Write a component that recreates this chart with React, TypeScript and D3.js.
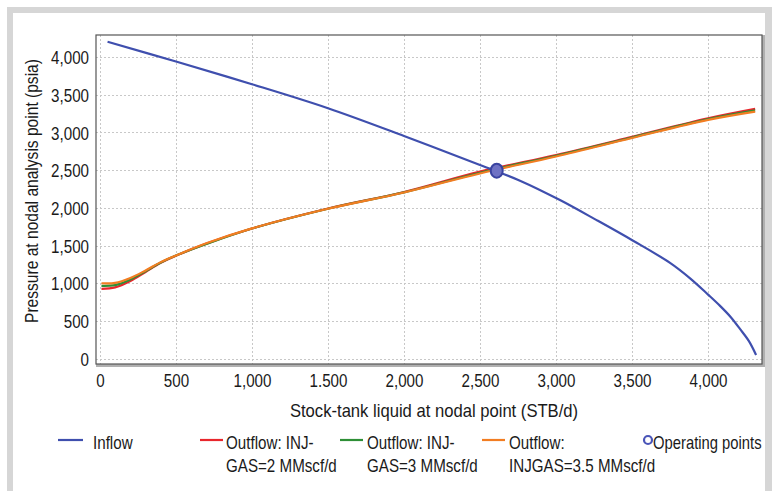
import * as d3 from 'd3'
import { useEffect, useRef } from 'react'

// stock-tank liquid rate (STB/d) vs pressure (psia)
const inflowQ = [50, 500, 1000, 1500, 2000, 2500, 2763, 3026, 3267, 3507, 3750, 3882, 4000, 4079, 4150, 4210, 4270, 4316]
const inflowP = [4200, 3938, 3638, 3320, 2952, 2567, 2360, 2103, 1837, 1564, 1270, 1065, 850, 700, 550, 395, 230, 50]

const outflowQ = [10, 100, 200, 300, 400, 500, 700, 1000, 1500, 2000, 2500, 3000, 3500, 4000, 4310]
const outflow2P = [925, 945, 1030, 1150, 1270, 1365, 1525, 1725, 1990, 2210, 2480, 2700, 2940, 3185, 3310]
const outflow3P = [965, 975, 1050, 1160, 1275, 1367, 1520, 1725, 1988, 2205, 2465, 2690, 2932, 3175, 3292]
const outflow35P = [1000, 1005, 1070, 1170, 1280, 1368, 1530, 1727, 1987, 2203, 2455, 2680, 2925, 3165, 3275]

const operatingQ = [2610]
const operatingP = [2492]

const xTicks = [0, 500, 1000, 1500, 2000, 2500, 3000, 3500, 4000]
const xTickLabels = ['0', '500', '1,000', '1.500', '2,000', '2,500', '3,000', '3,500', '4,000']
const yTicks = [0, 500, 1000, 1500, 2000, 2500, 3000, 3500, 4000]
const yTickLabels = ['0', '500', '1,000', '1,500', '2,000', '2,500', '3,000', '3,500', '4,000']

const FONT = "'Liberation Sans', Arial, sans-serif"
const SX = 0.82 // squeeze text horizontally, the original face is a condensed one
const INK = '#1a1a1a'

export default function App() {
  const ref = useRef<SVGSVGElement>(null)

  useEffect(() => {
    const svg = d3.select(ref.current)
    svg.selectAll('*').remove()
    const plot = { left: 96, top: 35, right: 762, bottom: 364 }

    // frame
    svg.append('rect').attr('x', 7).attr('y', 7).attr('width', 780).attr('height', 500).attr('fill', '#d6d6d6')
    svg.append('rect').attr('x', 13).attr('y', 13).attr('width', 752).attr('height', 500).attr('fill', '#fff')

    const x = d3.scaleLinear().domain([-26, 4355]).range([plot.left, plot.right])
    const y = d3.scaleLinear().domain([-70, 4290]).range([plot.bottom, plot.top])

    // grid
    const grid = svg.append('g').attr('stroke', '#c8c8c8').attr('stroke-dasharray', '2,2').attr('stroke-width', 1)
    grid.selectAll('.gx').data(xTicks).join('line')
      .attr('x1', (d) => Math.round(x(d)) + 0.5).attr('x2', (d) => Math.round(x(d)) + 0.5)
      .attr('y1', plot.top).attr('y2', plot.bottom)
    grid.selectAll('.gy').data(yTicks).join('line')
      .attr('y1', (d) => Math.round(y(d)) + 0.5).attr('y2', (d) => Math.round(y(d)) + 0.5)
      .attr('x1', plot.left).attr('x2', plot.right)

    // plot border
    svg.append('line').attr('x1', plot.left).attr('x2', plot.right + 1).attr('y1', plot.bottom + 1.5).attr('y2', plot.bottom + 1.5)
      .attr('stroke', '#b0b0b0').attr('stroke-width', 3)
    svg.append('line').attr('x1', plot.right + 1.5).attr('x2', plot.right + 1.5).attr('y1', plot.top).attr('y2', plot.bottom + 3)
      .attr('stroke', '#b0b0b0').attr('stroke-width', 3)
    svg.append('rect').attr('x', plot.left).attr('y', plot.top).attr('width', plot.right - plot.left).attr('height', plot.bottom - plot.top)
      .attr('fill', 'none').attr('stroke', '#555').attr('stroke-width', 1.2)

    // axes
    const xAxis = d3.axisBottom(x).tickValues(xTicks).tickSize(0).tickPadding(10)
      .tickFormat((_d, i) => xTickLabels[i])
    svg.append('g').attr('transform', `translate(0,${plot.bottom})`).call(xAxis)
      .call((g) => g.select('.domain').remove())
      .selectAll('text').attr('font-size', 18.5).attr('font-family', FONT).attr('fill', INK)
      .attr('transform', `scale(${SX},1)`)

    const yAxis = d3.axisLeft(y).tickValues(yTicks).tickSize(0).tickPadding(7)
      .tickFormat((_d, i) => yTickLabels[i])
    svg.append('g').attr('transform', `translate(${plot.left},0)`).call(yAxis)
      .call((g) => g.select('.domain').remove())
      .selectAll('text').attr('font-size', 18.5).attr('font-family', FONT).attr('fill', INK)
      .attr('x', -7 / SX).attr('dy', '0.36em').attr('transform', `scale(${SX},1)`)

    // titles
    svg.append('text').attr('transform', 'translate(434,417) scale(0.875,1)').attr('text-anchor', 'middle')
      .attr('font-size', 19).attr('font-family', FONT).attr('fill', INK)
      .text('Stock-tank liquid at nodal point (STB/d)')
    svg.append('text').attr('transform', 'translate(38,191) rotate(-90) scale(0.82,1)').attr('text-anchor', 'middle')
      .attr('font-size', 19).attr('font-family', FONT).attr('fill', INK)
      .text('Pressure at nodal analysis point (psia)')

    // curves
    const line = d3.line<[number, number]>().x((d) => x(d[0])).y((d) => y(d[1])).curve(d3.curveCatmullRom)
    const series = [
      { q: outflowQ, p: outflow2P, color: '#e8262c' },
      { q: outflowQ, p: outflow3P, color: '#2e8f36' },
      { q: outflowQ, p: outflow35P, color: '#f27d22' },
      { q: inflowQ, p: inflowP, color: '#3f4fae' },
    ]
    svg.append('g').selectAll('path').data(series).join('path')
      .attr('d', (s) => line(s.q.map((q, i) => [q, s.p[i]] as [number, number])))
      .attr('fill', 'none').attr('stroke', (s) => s.color).attr('stroke-width', 2.2)

    svg.append('g').selectAll('ellipse').data(operatingQ).join('ellipse')
      .attr('cx', (d) => x(d)).attr('cy', (_d, i) => y(operatingP[i]))
      .attr('rx', 6).attr('ry', 7)
      .attr('fill', '#6f72c4').attr('stroke', '#3a43a0').attr('stroke-width', 2)

    // legend
    const legend = svg.append('g').attr('font-size', 18.5).attr('font-family', FONT).attr('fill', INK)
    const items = [
      { x1: 58, x2: 83, tx: 93, color: '#3f4fae', lines: ['Inflow'] },
      { x1: 200, x2: 223, tx: 226, color: '#e8262c', lines: ['Outflow: INJ-', 'GAS=2 MMscf/d'] },
      { x1: 340, x2: 363, tx: 367, color: '#2e8f36', lines: ['Outflow: INJ-', 'GAS=3 MMscf/d'] },
      { x1: 482, x2: 505, tx: 509, color: '#f27d22', lines: ['Outflow:', 'INJGAS=3.5 MMscf/d'] },
    ]
    items.forEach((it) => {
      legend.append('line').attr('x1', it.x1).attr('x2', it.x2).attr('y1', 440).attr('y2', 440)
        .attr('stroke', it.color).attr('stroke-width', 2.2)
      it.lines.forEach((t, i) => {
        legend.append('text').attr('transform', `translate(${it.tx},${449 + i * 23}) scale(${SX},1)`).text(t)
      })
    })
    legend.append('circle').attr('cx', 648).attr('cy', 440).attr('r', 4)
      .attr('fill', 'none').attr('stroke', '#4a55b8').attr('stroke-width', 2.2)
    legend.append('text').attr('transform', `translate(653,449) scale(0.8,1)`).text('Operating points')
  }, [])

  return (
    <svg ref={ref} width={772} height={491} style={{ position: 'absolute', left: 0, top: 0, background: '#fff' }} />
  )
}
